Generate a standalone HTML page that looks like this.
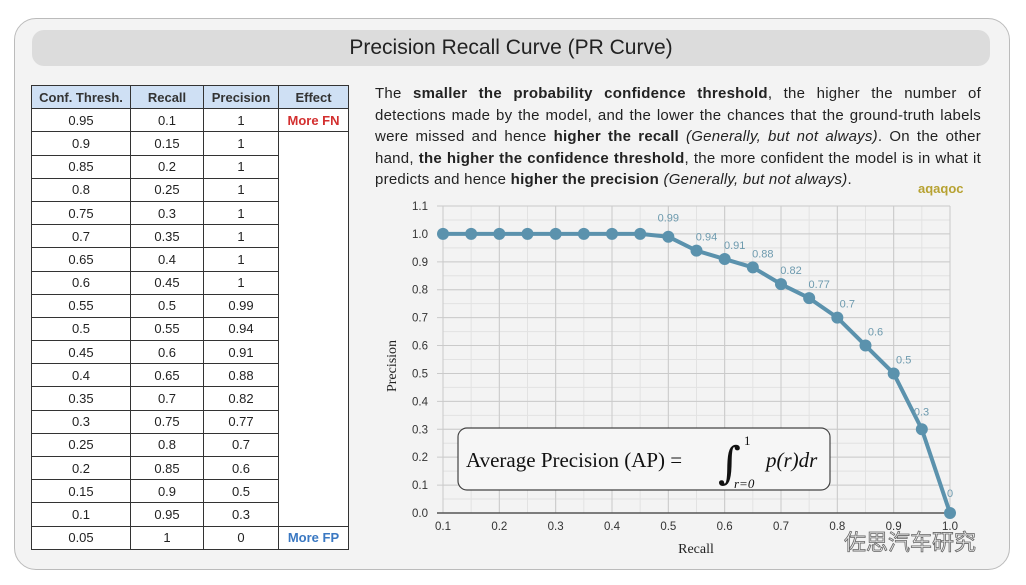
<!DOCTYPE html>
<html><head><meta charset="utf-8"><style>
body{margin:0;width:1026px;height:585px;background:#fff;font-family:"Liberation Sans","Noto Sans CJK SC",sans-serif;position:relative;overflow:hidden}
#card{position:absolute;left:14px;top:18px;width:994px;height:550px;border:1.5px solid #bbb;border-radius:22px;background:#f3f3f3}
#title{position:absolute;left:32px;top:30px;width:958px;height:36px;background:#dcdcdc;border-radius:12px;text-align:center;line-height:36px;font-size:21px;color:#222}
table{position:absolute;left:31px;top:85px;border-collapse:collapse;font-size:13px;color:#222}
td,th{border:1.5px solid #333;height:22.2px;padding:0;text-align:center;background:#fff;font-weight:normal}
th{background:#cfe0f4;font-weight:bold;color:#333}
#para{position:absolute;left:375px;top:83px;width:606px;font-size:15px;letter-spacing:0.25px;line-height:21.5px;color:#222;text-align:justify}
svg{position:absolute;left:0;top:0}
</style></head><body>
<div id="card"></div>
<div id="title">Precision Recall Curve (PR Curve)</div>
<table>
<tr><th style="width:98px">Conf. Thresh.</th><th style="width:72px">Recall</th><th style="width:74px">Precision</th><th style="width:69px">Effect</th></tr>
<tbody id="tb"></tbody>
</table>
<div id="para">The <b>smaller the probability confidence threshold</b>, the higher the number of detections made by the model, and the lower the chances that the ground-truth labels were missed and hence <b>higher the recall</b> <i>(Generally, but not always)</i>. On the other hand, <b>the higher the confidence threshold</b>, the more confident the model is in what it predicts and hence <b>higher the precision</b> <i>(Generally, but not always)</i>.</div>
<svg id="chart" width="1026" height="585"></svg>
<script>
const thresholds=[0.95,0.9,0.85,0.8,0.75,0.7,0.65,0.6,0.55,0.5,0.45,0.4,0.35,0.3,0.25,0.2,0.15,0.1,0.05];
const recall=[0.1,0.15,0.2,0.25,0.3,0.35,0.4,0.45,0.5,0.55,0.6,0.65,0.7,0.75,0.8,0.85,0.9,0.95,1];
const precision=[1,1,1,1,1,1,1,1,0.99,0.94,0.91,0.88,0.82,0.77,0.7,0.6,0.5,0.3,0];
const xTicks=[0.1,0.2,0.3,0.4,0.5,0.6,0.7,0.8,0.9,1.0];
const yTicks=[0,0.1,0.2,0.3,0.4,0.5,0.6,0.7,0.8,0.9,1.0,1.1];
const tb=document.getElementById('tb');
thresholds.forEach((t,i)=>{
 const tr=document.createElement('tr');
 
 
 let h='<td>'+t+'</td><td>'+recall[i]+'</td><td>'+precision[i]+'</td>';
 if(i==0)h+='<td style="color:#d32f2f;font-weight:bold">More FN</td>';
 else if(i==1)h+='<td rowspan="17"></td>';
 else if(i==thresholds.length-1)h+='<td style="color:#3a78c2;font-weight:bold">More FP</td>';
 tr.innerHTML=h;tb.appendChild(tr);
});
const NS='http://www.w3.org/2000/svg';
const svg=document.getElementById('chart');
const X=v=>443+(v-0.1)/0.9*507, Y=v=>513-v/1.1*307;
function el(tag,attrs,txt){const e=document.createElementNS(NS,tag);for(const k in attrs)e.setAttribute(k,attrs[k]);if(txt!==undefined)e.textContent=txt;svg.appendChild(e);return e;}
for(let v=0.1;v<=1.001;v+=0.05){const l=el('line',{x1:X(v),x2:X(v),y1:Y(1.1),y2:Y(0),stroke:'#e2e2e2','stroke-width':1});}
for(let v=0;v<=1.101;v+=0.05){const l=el('line',{x1:X(0.1),x2:X(1),y1:Y(v),y2:Y(v),stroke:'#e2e2e2','stroke-width':1});}
xTicks.forEach(v=>{const l=el('line',{x1:X(v),x2:X(v),y1:Y(1.1),y2:Y(0),stroke:'#cacaca','stroke-width':1});
 const t=el('text',{x:X(v),y:530,'font-size':11.5,'text-anchor':'middle',fill:'#333'},v.toFixed(1));});
yTicks.forEach(v=>{const l=el('line',{x1:X(0.1)-6,x2:X(1),y1:Y(v),y2:Y(v),stroke:'#cacaca','stroke-width':1});
 const t=el('text',{x:428,y:Y(v)+4,'font-size':11.5,'text-anchor':'end',fill:'#333'},v.toFixed(1));});
const ax=el('line',{x1:X(0.1)-6,x2:X(1),y1:Y(0),y2:Y(0),stroke:'#555','stroke-width':1.5});
const xt=el('text',{x:696,y:553,'font-size':14,'text-anchor':'middle',fill:'#222','font-family':'Liberation Serif'},'Recall');
const yt=el('text',{x:0,y:0,'font-size':14,'text-anchor':'middle',fill:'#222','font-family':'Liberation Serif',transform:'translate(396,366) rotate(-90)'},'Precision');
const pts=recall.map((r,i)=>X(r)+','+Y(precision[i])).join(' ');
const pl=el('polyline',{points:pts,fill:'none',stroke:'#5b92ad','stroke-width':4,'stroke-linejoin':'round'});
recall.forEach((r,i)=>{const c=el('circle',{cx:X(r),cy:Y(precision[i]),r:6,fill:'#5b92ad'});
 if(precision[i]<1){
  let dx=10,dy=-10,anchor='middle';
  if(i==8){dx=0;dy=-15;}
  if(i==17){dx=-8;dy=-14;anchor='start';}
  if(i==18){dx=-3;dy=-16;anchor='start';}
  const t=el('text',{x:X(r)+dx,y:Y(precision[i])+dy,'font-size':11,'text-anchor':anchor,fill:'#6d9aae'},String(precision[i]));}});
const bx=el('rect',{x:458,y:428,width:372,height:62,rx:9,fill:'#f6f6f6',stroke:'#444','stroke-width':1.2});
const f=el('text',{x:466,y:467,'font-size':21,fill:'#111','font-family':'Liberation Serif'},'Average Precision (AP) = ');
const ig=el('text',{x:718,y:478,'font-size':44,fill:'#111','font-family':'DejaVu Serif'},'∫');
const up=el('text',{x:744,y:445,'font-size':13,fill:'#111','font-family':'Liberation Serif'},'1');
const lo=el('text',{x:734,y:488,'font-size':13,fill:'#111','font-family':'Liberation Serif','font-style':'italic'},'r=0');
const pr=el('text',{x:766,y:467,'font-size':21,fill:'#111','font-family':'Liberation Serif','font-style':'italic'},'p(r)dr');
const lg=el('text',{x:918,y:193,'font-size':13,fill:'#b7a232','font-weight':'bold'},'aqaqoc');
const wm=el('text',{x:844,y:550,'font-size':22,fill:'#eee',stroke:'#666','stroke-width':0.8,'font-family':'Noto Sans CJK SC, sans-serif'},'佐思汽车研究');
</script>
</body></html>
